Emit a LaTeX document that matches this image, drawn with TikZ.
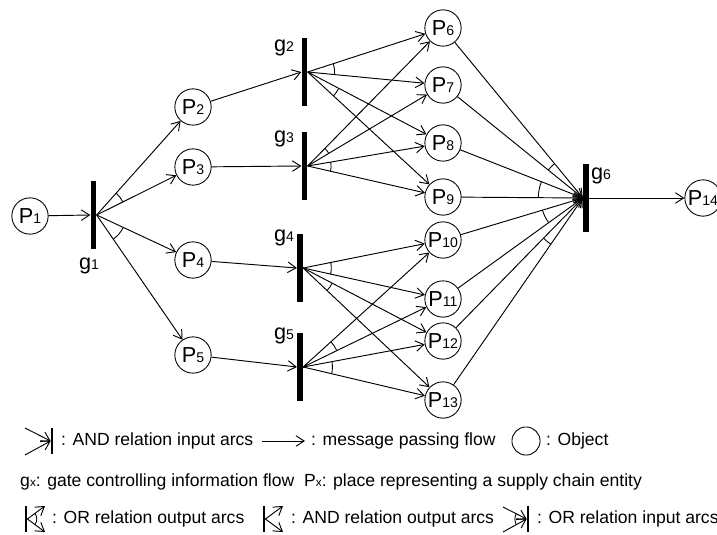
\documentclass[tikz,border=0pt]{standalone}
\usepackage{fontspec}
\setmainfont{Liberation Sans}
\usepackage{tikz}
\usetikzlibrary{arrows.meta,calc,positioning}
\tikzstyle{place} = [draw, circle, line width=0.75pt, minimum size=31pt, inner sep=0pt, font=\fontsize{18.5}{19}\selectfont]
\tikzstyle{gate} = [rectangle, fill=black, minimum width=5pt, minimum height=58pt, inner sep=0pt]
\tikzstyle{lbar} = [rectangle, fill=black, minimum width=2pt, minimum height=23pt, inner sep=0pt]
\tikzstyle{glabel} = [inner sep=0pt, font=\fontsize{18.5}{19}\selectfont]
\tikzstyle{legend} = [anchor=west, inner sep=0pt, font=\fontsize{15}{16}\selectfont]
\tikzstyle{flow} = [line width=0.8pt, -{Straight Barb[length=7pt,width=9pt]}]
\newcommand{\idx}[1]{{\fontsize{12}{12}\selectfont #1}}
\newcommand{\lidx}[1]{{\fontsize{10}{10}\selectfont #1}}
% arc between two arcs leaving (or entering) a gate
\newcommand{\relarc}[4]{%
  \draw[line width=0.75pt] let \p1=($(#2)-(#1)$), \p2=($(#3)-(#1)$),
    \n1={atan2(\y1,\x1)}, \n2={atan2(\y2,\x2)} in
    ($(#1)+(\n1:#4)$) arc[start angle=\n1, end angle=\n2, radius=#4];}

\begin{document}
\begin{tikzpicture}[x=0.03cm, y=-0.03cm]
\useasboundingbox (0,0) rectangle (717,535);

% Places
\node[place] (P1) at (30,216) {P\idx{1}};
\node[place] (P2) at (193,107) {P\idx{2}};
\node[place] (P3) at (193,167) {P\idx{3}};
\node[place] (P4) at (193,260) {P\idx{4}};
\node[place] (P5) at (193,355) {P\idx{5}};
\node[place] (P6) at (443,28) {P\idx{6}};
\node[place] (P7) at (443,85) {P\idx{7}};
\node[place] (P8) at (443,143) {P\idx{8}};
\node[place] (P9) at (443,197) {P\idx{9}};
\node[place] (P10) at (443,240) {P\idx{10}};
\node[place] (P11) at (443,299) {P\idx{11}};
\node[place] (P12) at (443,341) {P\idx{12}};
\node[place] (P13) at (443,400) {P\idx{13}};
\node[place] (P14) at (703,198) {P\idx{14}};

% Gates
\node[gate] (g1) at (93.5,215) {};
\node[gate] (g2) at (304.5,72) {};
\node[gate] (g3) at (304.5,166) {};
\node[gate] (g4) at (300,268) {};
\node[gate] (g5) at (300,367) {};
\node[gate] (g6) at (586,198) {};
\node[glabel] (lg1) at (89,266) {g\idx{1}};
\node[glabel] (lg2) at (284,48) {g\idx{2}};
\node[glabel] (lg3) at (284,139) {g\idx{3}};
\node[glabel] (lg4) at (284,238) {g\idx{4}};
\node[glabel] (lg5) at (284,336) {g\idx{5}};
\node[glabel] (lg6) at (601,176) {g\idx{6}};

% Message passing flow
\draw[flow] (P1) -- (g1.west);
\foreach \p in {P2,P3,P4,P5} \draw[flow] (g1.east) -- (\p);
\draw[flow] (P2) -- (g2.west);
\draw[flow] (P3) -- (g3.west);
\draw[flow] (P4) -- (g4.west);
\draw[flow] (P5) -- (g5.west);
\foreach \p in {P6,P7,P8,P9} {
  \draw[flow] (g2.east) -- (\p);
  \draw[flow] (g3.east) -- (\p);
}
\foreach \p in {P10,P11,P12,P13} {
  \draw[flow] (g4.east) -- (\p);
  \draw[flow] (g5.east) -- (\p);
}
\foreach \p in {P6,P7,P8,P9,P10,P11,P12,P13} \draw[flow] (\p) -- (g6.west);
\draw[flow] (g6.east) -- (P14);

% OR relation arcs
\relarc{g1.east}{P2}{P3}{25pt}
\relarc{g1.east}{P4}{P5}{25pt}
\relarc{g2.east}{P6}{P7}{23pt}
\relarc{g2.east}{P8}{P9}{30pt}
\relarc{g3.east}{P6}{P7}{21pt}
\relarc{g3.east}{P8}{P9}{20pt}
\relarc{g4.east}{P10}{P11}{24pt}
\relarc{g4.east}{P12}{P13}{28pt}
\relarc{g5.east}{P10}{P11}{32pt}
\relarc{g5.east}{P12}{P13}{25pt}
\relarc{g6.west}{P6}{P7}{38pt}
\relarc{g6.west}{P8}{P9}{38pt}
\relarc{g6.west}{P10}{P11}{36pt}
\relarc{g6.west}{P12}{P13}{48pt}

% Legend
\node[lbar] (k1) at (52,441) {};
\coordinate (k1a) at (25,428);
\coordinate (k1b) at (25,455);
\draw[flow] (k1a) -- (k1.west);
\draw[flow] (k1b) -- (k1.west);
\node[legend] (t1) at (61,441) {: AND relation input arcs};
\coordinate (m1) at (262,441);
\coordinate (m2) at (305,441);
\draw[flow] (m1) -- (m2);
\node[legend] (t2) at (311,441) {: message passing flow};
\node[place, minimum size=24pt] (obj) at (526,441) {};
\node[legend] (t3) at (546,441) {: Object};

\node[legend] (t4) at (20,482) {g\lidx{x}: gate controlling information flow};
\node[legend] (t5) at (304,482) {P\lidx{x}: place representing a supply chain entity};

\node[lbar] (k2) at (26,519) {};
\coordinate (k2a) at (45,506);
\coordinate (k2b) at (45,532);
\draw[flow] (k2.east) -- (k2a);
\draw[flow] (k2.east) -- (k2b);
\relarc{k2.east}{k2a}{k2b}{8pt}
\node[legend] (t6) at (52,519) {: OR relation output arcs};
\node[lbar] (k3) at (264,519) {};
\coordinate (k3a) at (283,506);
\coordinate (k3b) at (283,532);
\draw[flow] (k3.east) -- (k3a);
\draw[flow] (k3.east) -- (k3b);
\node[legend] (t7) at (291,519) {: AND relation output arcs};
\node[lbar] (k4) at (528,519) {};
\coordinate (k4a) at (503,507);
\coordinate (k4b) at (503,532);
\draw[flow] (k4a) -- (k4.west);
\draw[flow] (k4b) -- (k4.west);
\draw[line width=0.75pt] ($(k4.west)+(152:10pt)$) arc[start angle=152, end angle=208, radius=10pt];
\node[legend] (t8) at (537,519) {: OR relation input arcs};
\end{tikzpicture}
\end{document}
